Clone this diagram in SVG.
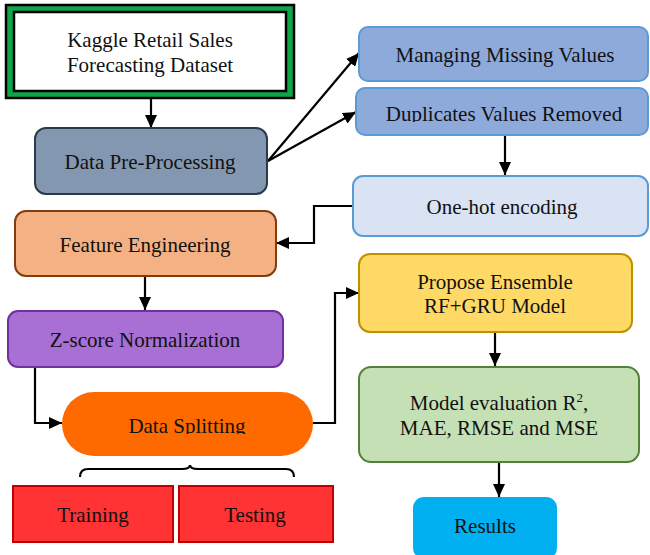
<svg xmlns="http://www.w3.org/2000/svg" width="650" height="555" viewBox="0 0 650 555">
<style>
text{font-family:"Liberation Serif","Times New Roman",serif;font-size:21px;fill:#111;text-anchor:middle}
.c{fill:none;stroke:#000;stroke-width:2.2}
.a{marker-end:url(#ah)}
</style>
<defs>
<marker id="ah" markerUnits="userSpaceOnUse" markerWidth="14" markerHeight="12" refX="13" refY="6" orient="auto">
<path d="M0,0 L13,6 L0,12 z" fill="#000"/>
</marker>
<clipPath id="clipDup"><rect x="356" y="88" width="292" height="34"/></clipPath>
<clipPath id="clipSplit"><rect x="62" y="392" width="251" height="42"/></clipPath>
</defs>
<g id="connectors">
<path class="c a" d="M151,99 V128"/>
<path class="c a" d="M268,161 L359,53"/>
<path class="c a" d="M268,161 L356,112"/>
<path class="c a" d="M505,135 V175"/>
<path class="c a" d="M353,206 H314 V243 H276"/>
<path class="c a" d="M145,276 V310"/>
<path class="c a" d="M35,367 V423 H62"/>
<path class="c a" d="M313,423 H335 V293 H359"/>
<path class="c a" d="M495,332 V366"/>
<path class="c a" d="M499,462 V497"/>
<path class="c" d="M80,477 Q80,469 88,469 H182 Q190,469 190,465 Q190,469 198,469 H286 Q294,469 294,477" stroke-width="2"/>
</g>
<g id="kaggle">
<rect x="6" y="5" width="288" height="93" fill="#0fa64a" stroke="#000" stroke-width="2.5"/>
<rect x="14" y="12" width="272" height="79" fill="#fff" stroke="#000" stroke-width="2.5"/>
<text x="150" y="47">Kaggle Retail Sales</text>
<text x="150" y="72">Forecasting Dataset</text>
</g>
<g id="preprocessing">
<rect x="35" y="128" width="232" height="66" rx="11" fill="#8497b0" stroke="#2b3a4a" stroke-width="2"/>
<text x="150" y="169">Data Pre-Processing</text>
</g>
<g id="missing">
<rect x="359" y="27" width="289" height="54" rx="9" fill="#8eaadb" stroke="#5b9bd5" stroke-width="2"/>
<text x="505" y="62">Managing Missing Values</text>
</g>
<g id="duplicates">
<rect x="356" y="88" width="292" height="47" rx="9" fill="#8eaadb" stroke="#5b9bd5" stroke-width="2"/>
<text x="504" y="121" clip-path="url(#clipDup)">Duplicates Values Removed</text>
</g>
<g id="onehot">
<rect x="353" y="176" width="295" height="60" rx="10" fill="#dae3f3" stroke="#5b9bd5" stroke-width="2"/>
<text x="502" y="214">One-hot encoding</text>
</g>
<g id="feature">
<rect x="15" y="211" width="261" height="65" rx="11" fill="#f4b183" stroke="#843c0c" stroke-width="2"/>
<text x="145" y="252">Feature Engineering</text>
</g>
<g id="zscore">
<rect x="8" y="311" width="275" height="56" rx="10" fill="#a86fd4" stroke="#7030a0" stroke-width="2"/>
<text x="145" y="347">Z-score Normalization</text>
</g>
<g id="splitting">
<rect x="62" y="392" width="251" height="64" rx="32" fill="#ff6a00"/>
<text x="187" y="433" clip-path="url(#clipSplit)">Data Splitting</text>
</g>
<g id="training">
<rect x="13" y="486" width="160" height="56" fill="#ff3333" stroke="#c00000" stroke-width="2"/>
<text x="93" y="522">Training</text>
</g>
<g id="testing">
<rect x="179" y="486" width="154" height="56" fill="#ff3333" stroke="#c00000" stroke-width="2"/>
<text x="255" y="522">Testing</text>
</g>
<g id="ensemble">
<rect x="359" y="254" width="273" height="78" rx="11" fill="#ffd966" stroke="#bf9000" stroke-width="2"/>
<text x="495" y="289">Propose Ensemble</text>
<text x="495" y="313">RF+GRU Model</text>
</g>
<g id="evaluation">
<rect x="359" y="367" width="280" height="95" rx="12" fill="#c5e0b4" stroke="#538135" stroke-width="2"/>
<text x="499" y="410">Model evaluation R<tspan dy="-8" font-size="13">2</tspan><tspan dy="8">,</tspan></text>
<text x="499" y="435">MAE, RMSE and MSE</text>
</g>
<g id="results">
<rect x="413" y="497" width="144" height="62" rx="11" fill="#00b0f0"/>
<text x="485" y="533">Results</text>
</g>
</svg>
